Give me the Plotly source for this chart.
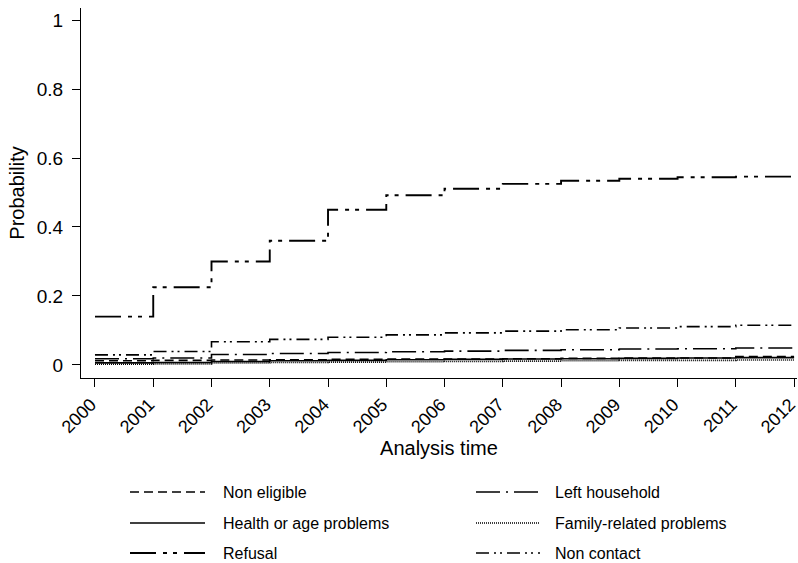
import plotly.graph_objects as go

years = list(range(2000, 2013))
non_eligible = [0.012, 0.013, 0.014, 0.015, 0.016, 0.017, 0.017, 0.018, 0.019, 0.020, 0.020, 0.024, 0.024]
left_household = [0.018, 0.020, 0.030, 0.033, 0.036, 0.038, 0.040, 0.042, 0.044, 0.046, 0.047, 0.049, 0.049]
health = [0.006, 0.007, 0.010, 0.012, 0.013, 0.015, 0.016, 0.017, 0.018, 0.019, 0.020, 0.021, 0.021]
family = [0.002, 0.003, 0.006, 0.007, 0.008, 0.009, 0.010, 0.011, 0.012, 0.013, 0.013, 0.014, 0.014]
refusal = [0.140, 0.225, 0.300, 0.360, 0.450, 0.492, 0.511, 0.525, 0.534, 0.540, 0.544, 0.546, 0.546]
non_contact = [0.029, 0.039, 0.067, 0.074, 0.080, 0.087, 0.093, 0.098, 0.102, 0.107, 0.111, 0.115, 0.115]

y_ticks = [0, 0.2, 0.4, 0.6, 0.8, 1]
y_tick_labels = ["0", "0.2", "0.4", "0.6", "0.8", "1"]

series = [
    ("Non eligible", non_eligible, "9px,5px", 1.6),
    ("Left household", left_household, "24px,6px,2px,6px", 1.6),
    ("Health or age problems", health, "solid", 1.6),
    ("Family-related problems", family, "1px,1px", 1.6),
    ("Refusal", refusal, "26px,7px,4px,6px,4px,7px", 1.9),
    ("Non contact", non_contact, "13px,5px,2px,4px,2px,5px", 1.6),
]

FONT = "Liberation Sans, Arial, sans-serif"
W, H = 798, 563
ML, MR, MT, MB = 81, 1, 8, 185
PW, PH = W - ML - MR, H - MT - MB

fig = go.Figure()
for name, vals, dash, w in series:
    fig.add_trace(go.Scatter(x=years, y=vals, mode="lines", name=name,
                             line=dict(shape="hv", color="black", dash=dash, width=w),
                             showlegend=False))

def px_x(p):
    return (p - ML) / PW

def px_y(p):
    return (H - MB - p) / PH

# manual legend: 2 columns x 3 rows
rows_px = [492, 523, 553]
cols = [(130, 205, 221), (476, 540, 553)]
shapes = []
annotations = []
for i, (name, vals, dash, w) in enumerate(series):
    r, c = divmod(i, 2)
    x0, x1, xt = cols[c]
    yy = px_y(rows_px[r])
    shapes.append(dict(type="line", xref="paper", yref="paper",
                       x0=px_x(x0), x1=px_x(x1), y0=yy, y1=yy,
                       line=dict(color="black", dash=dash, width=w)))
    annotations.append(dict(text=name, xref="paper", yref="paper",
                            x=px_x(xt), y=yy, xanchor="left", yanchor="middle",
                            showarrow=False, font=dict(size=16, color="black", family=FONT)))

fig.update_layout(
    width=W, height=H,
    margin=dict(l=ML, r=MR, t=MT, b=MB, autoexpand=False),
    plot_bgcolor="white", paper_bgcolor="white",
    font=dict(family=FONT, color="black", size=19),
    shapes=shapes, annotations=annotations,
    showlegend=False,
)
fig.update_xaxes(range=[1999.76, 2012.05], tickmode="array", tickvals=years,
                 ticktext=[str(y) for y in years], tickangle=-45,
                 ticklabeloverflow="allow", ticklabelshift=-4,
                 showline=True, linecolor="black", linewidth=1, mirror=False,
                 ticks="outside", ticklen=8, tickcolor="black", showgrid=False, zeroline=False,
                 title=dict(text="Analysis time", font=dict(size=20), standoff=4),
                 tickfont=dict(size=18))
fig.update_yaxes(range=[-0.038, 1.035], tickmode="array", tickvals=y_ticks,
                 ticktext=y_tick_labels, ticklabelstandoff=5,
                 showline=True, linecolor="black", linewidth=1, mirror=False,
                 ticks="outside", ticklen=8, tickcolor="black", showgrid=False, zeroline=False,
                 title=dict(text="Probability", font=dict(size=20), standoff=6),
                 tickfont=dict(size=19))

fig.write_html("out.html", post_script="document.body.style.margin='0';",
               config={"displayModeBar": False})
